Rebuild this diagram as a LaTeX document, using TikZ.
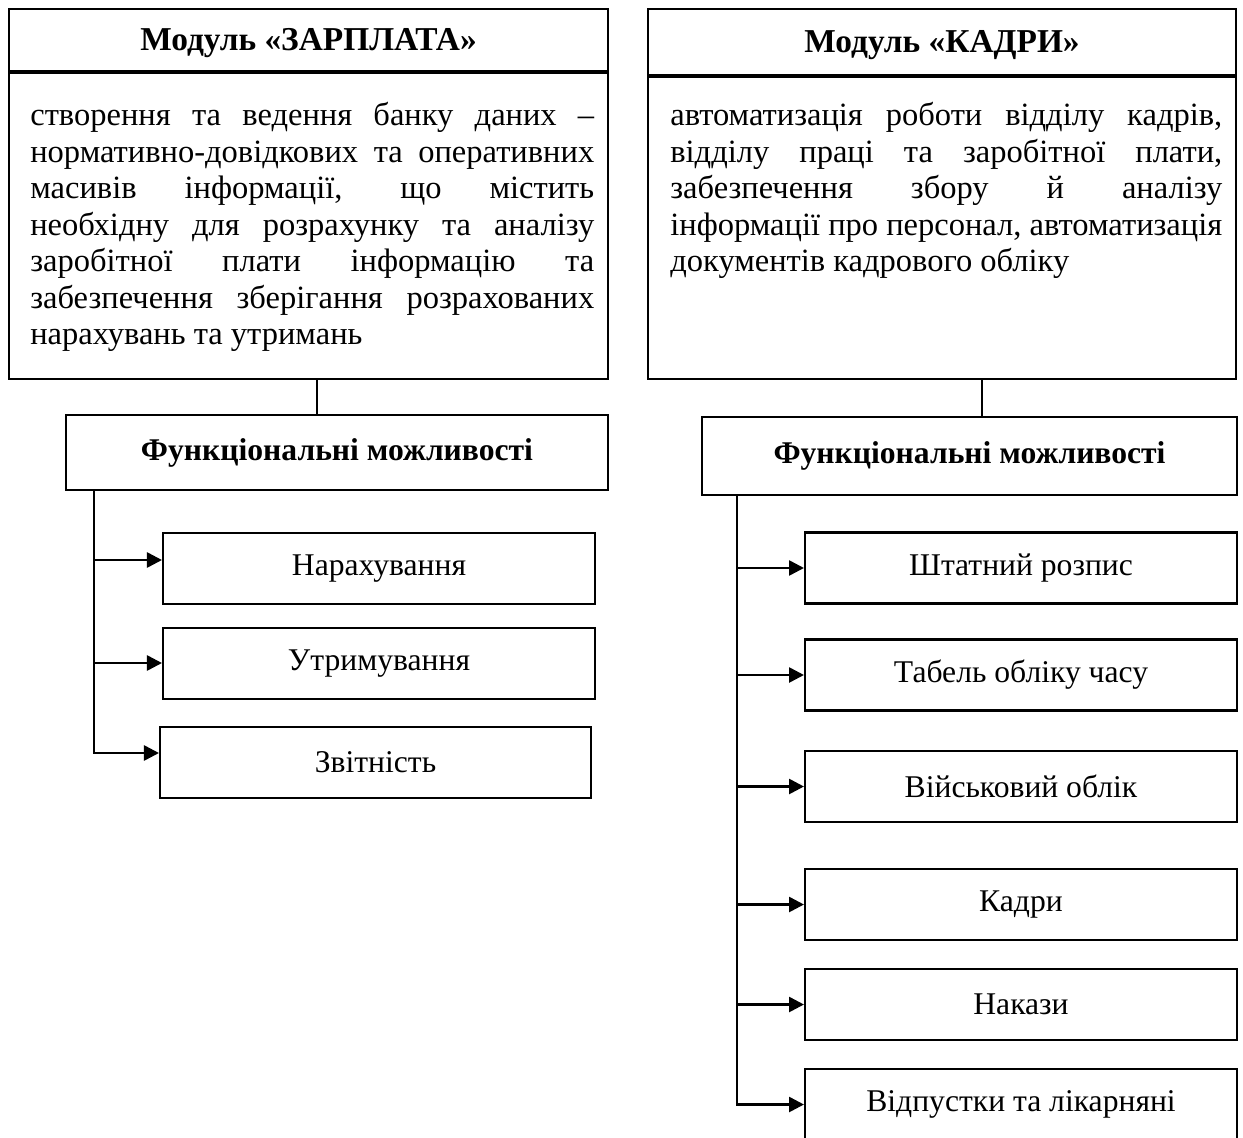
\documentclass[tikz,border=0pt]{standalone}
\usepackage{fontspec}
\setmainfont{Liberation Serif}
\usetikzlibrary{
  positioning,
  arrows.meta,
  calc
}
\newcommand\bodyfix{\tolerance=10000\relax\hbadness=10000\relax\exhyphenpenalty=10000\relax}
\tikzset{
  >=Latex,
  flowarrow/.style={-{Triangle[length=3mm,width=3mm]},line width=1.5pt},
  link/.style={line width=1.2pt},
  header/.style={rectangle,draw,line width=1.2pt,inner sep=0pt,text height=12.5pt,text depth=0pt,font=\fontsize{19pt}{22pt}\selectfont\bfseries},
  modframe/.style={rectangle,draw,line width=1.2pt,inner sep=0pt},
  bodytext/.style={align=justify,inner sep=0pt,anchor=north west,font=\fontsize{18.5pt}{20.8pt}\selectfont},
  funcbox/.style={rectangle,draw,line width=1.2pt,inner sep=0pt,font=\fontsize{18pt}{21pt}\selectfont\bfseries},
  item/.style={rectangle,draw,line width=1.2pt,minimum width=8.64cm,minimum height=1.42cm,inner sep=0pt,font=\fontsize{18pt}{21pt}\selectfont}
}

\begin{document}
\begin{tikzpicture}[x=0.02cm,y=-0.02cm]
    \useasboundingbox (0,0) rectangle (1243,1138);

    % Модуль «ЗАРПЛАТА» (ліворуч)
    \node[header,minimum width=11.98cm,minimum height=1.24cm] (zphead) at (308.5,40) {Модуль «ЗАРПЛАТА»};
    \node[modframe,minimum width=11.98cm,minimum height=6.12cm,below=0pt of zphead] (zpbody) {};
    \node[bodytext,text width=11.28cm] (zptext) at (30,102) {\bodyfix створення та ведення банку даних –\linebreak
      нормативно-довідкових та оперативних\linebreak
      масивів інформації, що містить\linebreak
      необхідну для розрахунку та аналізу\linebreak
      заробітної плати інформацію та\linebreak
      забезпечення зберігання розрахованих\linebreak
      нарахувань та утримань};

    % Модуль «КАДРИ» (праворуч)
    \node[header,minimum width=11.76cm,minimum height=1.32cm] (krhead) at (942,42) {Модуль «КАДРИ»};
    \node[modframe,minimum width=11.76cm,minimum height=6.04cm,below=0pt of krhead] (krbody) {};
    \node[bodytext,text width=11.04cm] (krtext) at (670,102) {\bodyfix автоматизація роботи відділу кадрів,\linebreak
      відділу праці та заробітної плати,\linebreak
      забезпечення збору й аналізу\linebreak
      інформації про персонал, автоматизація\linebreak
      документів кадрового обліку};

    % Функціональні можливості
    \node[funcbox,minimum width=10.84cm,minimum height=1.5cm] (zpfunc) at (337,452.5) {Функціональні можливості};
    \node[funcbox,minimum width=10.7cm,minimum height=1.56cm] (krfunc) at (969.5,456) {Функціональні можливості};

    % Функції модуля «ЗАРПЛАТА»
    \node[item] (nar) at (379,568.5) {Нарахування};
    \node[item] (utr) at (379,663.5) {Утримування};
    \node[item,minimum width=8.62cm] (zvit) at (375.5,762.5) {Звітність};

    % Функції модуля «КАДРИ»
    \node[item] (sht) at (1021,568) {Штатний розпис};
    \node[item] (tab) at (1021,675) {Табель обліку часу};
    \node[item] (vij) at (1021,786.5) {Військовий облік};
    \node[item] (kad) at (1021,904.5) {Кадри};
    \node[item] (nak) at (1021,1004.5) {Накази};
    \node[item] (vid) at (1021,1104.5) {Відпустки та лікарняні};

    % Зв'язки
    \draw[link] (zpbody.south -| 317,0) -- (317,0 |- zpfunc.north);
    \draw[link] (krbody.south -| 982,0) -- (982,0 |- krfunc.north);

    \foreach \b/\s in {nar/8.5,utr/0.5} {
      \coordinate (\b in) at ($(\b.west)+(0,-\s)$);
      \draw[flowarrow] (94,0 |- \b in) -- (\b in);
    }
    \coordinate (zvit in) at ($(zvit.west)+(0,-9.5)$);
    \draw[flowarrow] (94,0 |- zpfunc.south) |- (zvit in);

    \foreach \b in {sht,tab,vij,kad,nak} \draw[flowarrow] (737,0 |- \b.west) -- (\b.west);
    \draw[flowarrow] (737,0 |- krfunc.south) |- (vid.west);
\end{tikzpicture}
\end{document}
